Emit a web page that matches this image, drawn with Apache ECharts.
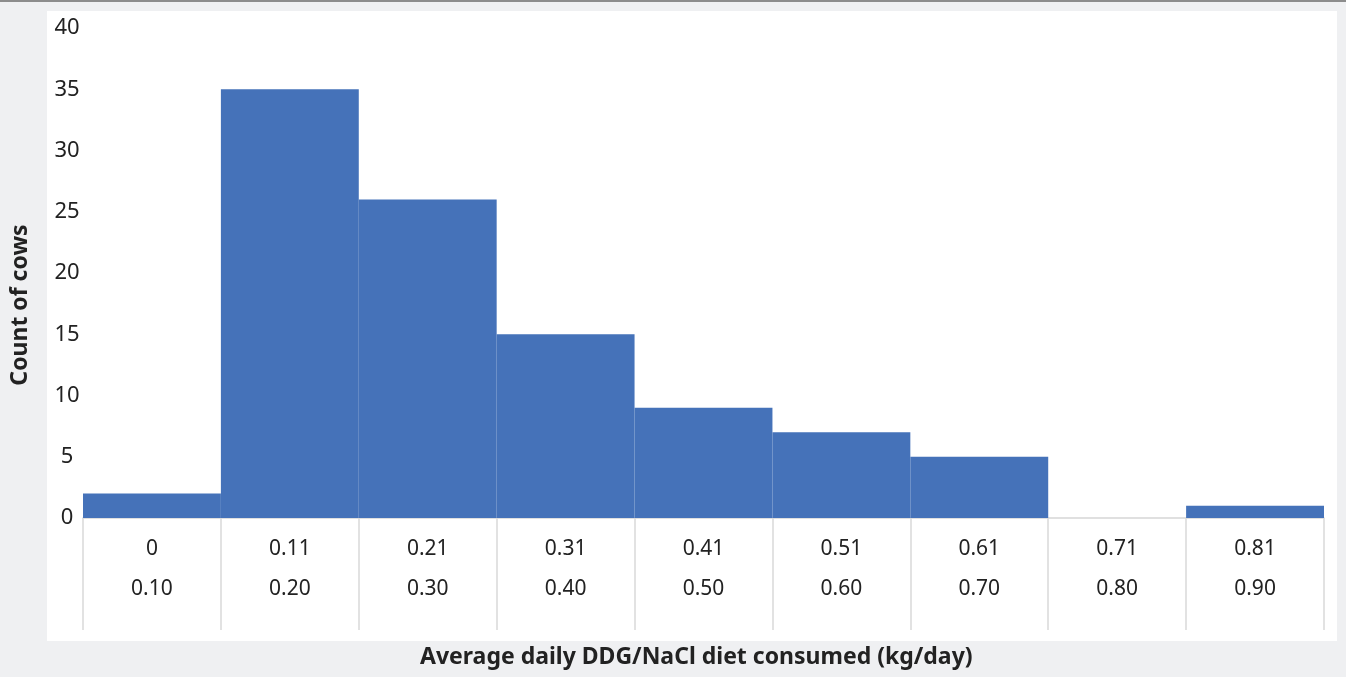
<!DOCTYPE html>
<html>
<head>
<meta charset="utf-8">
<script src="https://cdn.jsdelivr.net/npm/echarts@6/dist/echarts.min.js"></script>
<style>
  html, body { margin: 0; padding: 0; background: #eff0f2; }
  #chart { width: 1346px; height: 677px; }
</style>
</head>
<body>
<div id="chart"></div>
<script>
// bins of daily intake (kg/day), lower and upper bound
const binLow = ["0", "0.11", "0.21", "0.31", "0.41", "0.51", "0.61", "0.71", "0.81"];
const binHigh = ["0.10", "0.20", "0.30", "0.40", "0.50", "0.60", "0.70", "0.80", "0.90"];
// number of cows in each bin
const cowCounts = [2, 35, 26, 15, 9, 7, 5, 0, 1];
const yTicks = { min: 0, max: 40, step: 5 };

const categories = binLow.map((lo, i) => lo + "\n" + binHigh[i]);

const chart = echarts.init(document.getElementById("chart"), null, { renderer: "canvas" });

const fontFamily = "'Noto Sans', 'Open Sans', sans-serif";

chart.setOption({
  animation: false,
  backgroundColor: "#eff0f2",
  textStyle: { fontFamily: fontFamily },
  graphic: [
    // top rule
    { type: "rect", left: 0, top: 0, shape: { width: 1346, height: 2 }, style: { fill: "#8c8c8c" }, z: -10 },
    // white panel behind the chart
    { type: "rect", left: 47, top: 11, shape: { width: 1290, height: 630 }, style: { fill: "#ffffff" }, z: -10 },
    {
      type: "text",
      left: 420,
      top: 646,
      style: {
        text: "Average daily DDG/NaCl diet consumed (kg/day)",
        font: "bold 23px " + fontFamily,
        fill: "#222222"
      }
    },
    {
      type: "text",
      x: 20,
      y: 305,
      rotation: Math.PI / 2,
      style: {
        text: "Count of cows",
        font: "bold 23px " + fontFamily,
        fill: "#222222",
        align: "center",
        verticalAlign: "middle"
      }
    }
  ],
  grid: {
    left: 83, right: 22, top: 28, bottom: 159,
    containLabel: false,
    outerBoundsMode: "none"
  },
  xAxis: {
    type: "category",
    data: categories,
    boundaryGap: true,
    axisLine: { show: true, lineStyle: { color: "#d6d6d6", width: 1.5 } },
    axisTick: {
      show: true,
      interval: 0,
      length: 112,
      lineStyle: { color: "#d9d9d9", width: 1.5 }
    },
    axisLabel: {
      interval: 0,
      margin: 11,
      color: "#222222",
      fontSize: 21,
      lineHeight: 40,
      fontFamily: fontFamily
    }
  },
  yAxis: {
    type: "value",
    min: yTicks.min,
    max: yTicks.max,
    interval: yTicks.step,
    axisLine: { show: false },
    axisTick: { show: false },
    splitLine: { show: false },
    axisLabel: {
      align: "center",
      margin: 16,
      color: "#222222",
      fontSize: 22,
      fontFamily: fontFamily
    }
  },
  series: [
    {
      type: "bar",
      data: cowCounts,
      barCategoryGap: "0%",
      itemStyle: { color: "#4572b9" }
    }
  ]
});
</script>
</body>
</html>
